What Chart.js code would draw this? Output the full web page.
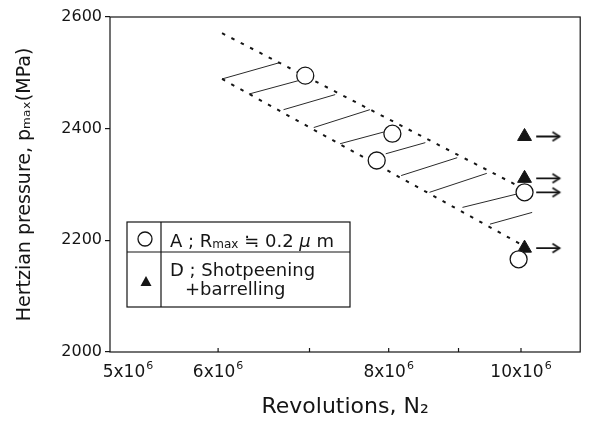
<!DOCTYPE html>
<html><head><meta charset="utf-8">
<script src="https://cdn.jsdelivr.net/npm/chart.js@4/dist/chart.umd.min.js"></script>
<style>html,body{margin:0;padding:0;background:#fff}#wrap{width:590px;height:422px}</style>
</head><body><div id="wrap"><canvas id="c" width="590" height="422"></canvas></div>
<script>
// ---- data ----
const seriesAX = [6.95e6, 8.05e6, 7.84e6, 10.06e6, 9.96e6];
const seriesAY = [2495, 2391, 2343, 2286, 2166];
const seriesDX = [10.06e6, 10.06e6, 10.06e6];
const seriesDY = [2386, 2311, 2186];
const upperBandX = [6.04e6, 9.94e6];
const upperBandY = [2571, 2298];
const lowerBandX = [6.04e6, 10.03e6];
const lowerBandY = [2489, 2191];
const hatchX0 = [6.04e6, 6.32e6, 6.70e6, 7.05e6, 7.37e6, 7.96e6, 8.17e6, 8.57e6, 9.06e6, 9.49e6];
const hatchY0 = [2489, 2462, 2434, 2402, 2373, 2355, 2316, 2286, 2259, 2229];
const hatchX1 = [6.65e6, 6.87e6, 7.31e6, 7.75e6, 7.99e6, 8.51e6, 8.98e6, 9.44e6, 9.97e6, 10.19e6];
const hatchY1 = [2518, 2486, 2461, 2434, 2396, 2375, 2348, 2320, 2284, 2250];
const arrowX0 = [10.26e6, 10.26e6, 10.26e6, 10.26e6];
const arrowX1 = [10.67e6, 10.67e6, 10.67e6, 10.67e6];
const arrowY = [2386, 2311, 2286, 2186];
const xTickValues = [5e6, 6e6, 7e6, 8e6, 9e6, 10e6];
const xTickLabels = ['5x10', '6x10', '', '8x10', '', '10x10'];
const xTickExp = ['6', '6', '', '6', '', '6'];
const yTickValues = [2000, 2200, 2400, 2600];
const yTickLabels = ['2000', '2200', '2400', '2600'];
const xTitle = 'Revolutions, N\u2082';
const yTitle = 'Hertzian pressure, p\u2098\u2090\u2093(MPa)';
const legendA = ['A ; R', 'max', ' \u2252 0.2 ', '\u03bc', ' m'];
const legendD = ['D ; Shotpeening', '+barrelling'];

const INK = '#151515';
const FONT = "'DejaVu Sans'";
Chart.defaults.font.family = FONT;
Chart.defaults.color = INK;

function arrowHead() {
  const c = document.createElement('canvas');
  c.width = 20; c.height = 12;
  const g = c.getContext('2d');
  g.strokeStyle = INK; g.lineWidth = 1.8; g.lineJoin = 'miter';
  g.beginPath(); g.moveTo(3, 1.5); g.lineTo(10, 6); g.lineTo(3, 10.5); g.stroke();
  return c;
}
const headImg = arrowHead();

const datasets = [];
datasets.push({
  label: 'A', data: seriesAX.map((x, i) => ({x, y: seriesAY[i]})),
  pointStyle: 'circle', pointRadius: 8.5, backgroundColor: '#fff', borderColor: INK, borderWidth: 1.3,
  showLine: false, order: 0
});
datasets.push({
  label: 'D', data: seriesDX.map((x, i) => ({x, y: seriesDY[i]})),
  pointStyle: 'triangle', pointRadius: 8, backgroundColor: INK, borderColor: INK, borderWidth: 1,
  showLine: false, order: 0
});
[[upperBandX, upperBandY], [lowerBandX, lowerBandY]].forEach(([xs, ys]) => {
  datasets.push({
    label: 'band', data: xs.map((x, i) => ({x, y: ys[i]})), showLine: true,
    borderColor: INK, borderWidth: 2, borderDash: [3.5, 7], pointRadius: 0, order: 2
  });
});
hatchX0.forEach((x, i) => {
  datasets.push({
    label: 'hatch', data: [{x, y: hatchY0[i]}, {x: hatchX1[i], y: hatchY1[i]}], showLine: true,
    borderColor: '#2a2a2a', borderWidth: 1, pointRadius: 0, order: 3
  });
});
arrowY.forEach((y, i) => {
  datasets.push({
    label: 'arrow', data: [{x: arrowX0[i], y}, {x: arrowX1[i], y}], showLine: true,
    borderColor: INK, borderWidth: 1.8,
    pointStyle: ctx => ctx.dataIndex === 1 ? headImg : 'circle',
    pointRadius: ctx => ctx.dataIndex === 1 ? 5 : 0, order: 1
  });
});

const decor = {
  id: 'decor',
  afterDraw(chart) {
    const ctx = chart.ctx, a = chart.chartArea, xs = chart.scales.x;
    ctx.save();
    // frame
    ctx.strokeStyle = INK; ctx.lineWidth = 1.2;
    ctx.strokeRect(a.left, a.top, a.right - a.left, a.bottom - a.top);
    // x ticks (inward) and labels with superscript exponent
    ctx.fillStyle = INK; ctx.textBaseline = 'alphabetic'; ctx.textAlign = 'left';
    xTickValues.forEach((v, i) => {
      const px = xs.getPixelForValue(v);
      if (i > 0) { ctx.beginPath(); ctx.moveTo(px, a.bottom); ctx.lineTo(px, a.bottom - 4); ctx.stroke(); }
      if (xTickLabels[i]) {
        ctx.font = '17px ' + FONT;
        const w1 = ctx.measureText(xTickLabels[i]).width;
        ctx.font = '11px ' + FONT;
        const w2 = ctx.measureText(xTickExp[i]).width;
        const cx = px + (i === 0 ? 18 : 0);
        const x0 = cx - (w1 + w2 + 1) / 2, base = a.bottom + 25;
        ctx.font = '17px ' + FONT; ctx.fillText(xTickLabels[i], x0, base);
        ctx.font = '11px ' + FONT; ctx.fillText(xTickExp[i], x0 + w1 + 1, base - 8);
      }
    });
    // legend table
    const L = a.left + 17, T = a.top + 205, W = 223, H = 85, cw = 34, rh = 30;
    ctx.fillStyle = '#fff'; ctx.fillRect(L, T, W, H);
    ctx.lineWidth = 1.2;
    ctx.strokeRect(L, T, W, H);
    ctx.beginPath(); ctx.moveTo(L, T + rh); ctx.lineTo(L + W, T + rh);
    ctx.moveTo(L + cw, T); ctx.lineTo(L + cw, T + H); ctx.stroke();
    ctx.lineWidth = 1.3;
    ctx.beginPath(); ctx.arc(L + 18, T + 17, 7, 0, Math.PI * 2); ctx.stroke();
    ctx.fillStyle = INK;
    const tx = L + 19, ty = T + 60;
    ctx.beginPath(); ctx.moveTo(tx, ty - 6); ctx.lineTo(tx + 5.5, ty + 4); ctx.lineTo(tx - 5.5, ty + 4); ctx.closePath(); ctx.fill();
    ctx.textAlign = 'left'; ctx.textBaseline = 'alphabetic';
    let x = L + 43, y = T + 25;
    const fonts = ['18px ' + FONT, '12px ' + FONT, '18px ' + FONT, 'italic 18px ' + FONT, '18px ' + FONT];
    const dy = [0, 1, 0, 0, 0];
    legendA.forEach((s, i) => {
      ctx.font = fonts[i]; ctx.fillText(s, x, y + dy[i]); x += ctx.measureText(s).width;
    });
    ctx.font = '18px ' + FONT;
    ctx.fillText(legendD[0], L + 43, T + 54);
    ctx.fillText(legendD[1], L + 58, T + 73);
    ctx.restore();
  }
};

new Chart(document.getElementById('c'), {
  type: 'scatter',
  data: {datasets},
  options: {
    responsive: false, animation: false, devicePixelRatio: 1,
    layout: {padding: {top: 17, right: -3, left: 0, bottom: 0}},
    plugins: {legend: {display: false}, tooltip: {enabled: false}},
    scales: {
      x: {
        type: 'logarithmic', min: 5e6, max: 11.05e6,
        afterBuildTicks: s => { s.ticks = xTickValues.map(v => ({value: v})); },
        afterFit: s => { s.height = 70; s.paddingRight = 0; s.paddingLeft = 0; },
        ticks: {display: false},
        grid: {display: false}, border: {display: false},
        title: {display: true, text: xTitle, font: {size: 22}, color: INK, padding: {top: 0, bottom: 2}}
      },
      y: {
        type: 'linear', min: 2000, max: 2600,
        afterBuildTicks: s => { s.ticks = yTickValues.map(v => ({value: v})); },
        afterFit: s => { s.width = 110; },
        ticks: {callback: (v, i) => yTickLabels[i], font: {size: 16}, color: INK, padding: 3},
        grid: {drawOnChartArea: false, drawTicks: true, tickLength: 5, color: INK, lineWidth: 1.2},
        border: {display: false},
        title: {display: true, text: yTitle, font: {size: 19}, color: INK, padding: {top: 14, bottom: 0}}
      }
    }
  },
  plugins: [decor]
});
</script></body></html>
